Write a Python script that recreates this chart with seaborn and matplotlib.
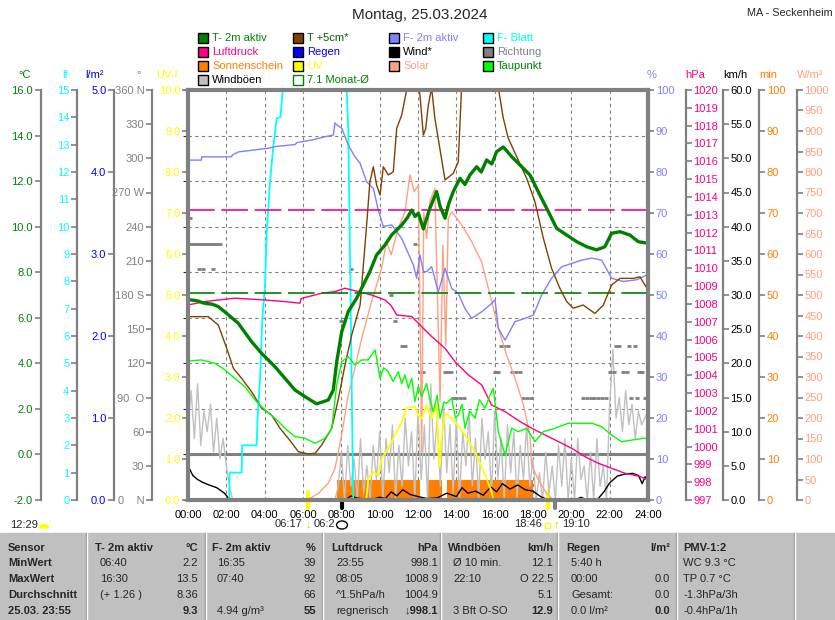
import numpy as np
import seaborn as sns
import matplotlib
matplotlib.use("Agg")
import matplotlib.pyplot as plt
from matplotlib.patches import Rectangle, Wedge, Circle
from matplotlib.lines import Line2D

# ---------------- data (hours since 00:00) ----------------
t2m_h = [0.0, 0.45, 0.9, 1.25, 1.58, 2.02, 2.62, 3.32, 3.84, 4.54, 5.06, 5.58, 6.10, 6.71, 7.32, 7.58,
         7.76, 8.02, 8.36, 8.80, 9.23, 9.49, 9.84, 10.28, 10.63, 11.15, 11.45, 11.67, 11.85, 12.02, 12.28,
         12.62, 12.97, 13.15, 13.41, 13.60, 13.84, 14.19, 14.45, 14.71, 15.06, 15.30, 15.58, 15.85, 16.10,
         16.45, 16.89, 17.32, 17.84, 18.36, 18.80, 19.23, 19.76, 20.28, 20.80, 21.32, 21.75, 22.10, 22.54,
         23.06, 23.49, 24.0]
t2m_v = [6.80, 6.75, 6.63, 6.60, 6.49, 6.19, 5.76, 4.95, 4.44, 3.85, 3.34, 2.83, 2.54, 2.22, 2.39, 2.83,
         4.07, 5.39, 6.27, 6.86, 7.59, 8.03, 8.76, 9.20, 9.64, 10.07, 10.40, 10.73, 10.45, 10.59, 9.90,
         10.81, 11.54, 10.90, 10.37, 11.00, 11.54, 12.12, 11.85, 12.27, 12.63, 12.40, 12.93, 12.75, 13.29,
         13.50, 13.07, 12.71, 12.27, 11.39, 10.66, 9.93, 9.63, 9.34, 9.12, 8.98, 9.12, 9.71, 9.78,
         9.63, 9.34, 9.27]

t5_h = [0.0, 1.06, 1.58, 2.02, 2.37, 2.80, 3.32, 3.84, 4.36, 4.80, 5.23, 5.76, 6.28, 6.63, 6.97, 7.50,
        7.85, 8.19, 8.54, 8.98, 9.32, 9.49, 9.67, 9.84, 10.02, 10.19, 10.45, 10.71, 10.89, 11.15, 11.50,
        11.80, 12.10, 12.28, 12.40, 12.54, 12.71, 12.88, 13.41, 13.84, 14.10, 14.30, 14.90, 15.50, 16.19,
        16.45, 16.71, 17.15, 17.67, 18.10, 18.54, 18.97, 19.40, 19.76, 20.10, 20.62, 21.23, 21.67, 22.10,
        22.54, 23.23, 23.58, 24.0]
t5_v = [6.05, 6.05, 5.68, 4.66, 3.78, 3.34, 2.75, 2.03, 1.73, 1.15, 0.71, 0.12, 0.02, 0.05, 0.41, 1.15,
        2.46, 3.92, 5.24, 6.56, 10.07, 11.97, 12.63, 11.83, 11.39, 12.63, 12.27, 12.41, 14.32, 14.90, 16.40,
        16.80, 15.80, 14.02, 14.30, 15.34, 16.10, 14.76, 12.05, 12.34, 12.85, 16.60, 18.20, 17.80, 16.10,
        14.76, 13.88, 13.07, 12.12, 11.10, 9.49, 8.17, 7.30, 6.71, 6.42, 6.56, 6.19, 6.56, 7.44,
        7.73, 7.73, 7.80, 7.22]

dew_h = [0.0, 0.7, 1.41, 1.93, 2.45, 2.97, 3.50, 4.02, 4.54, 5.06, 5.58, 6.10, 6.63, 7.15, 7.50, 7.76,
         8.02, 8.36, 8.71, 9.06, 9.40, 9.76, 10.02, 10.20, 10.45, 10.70, 10.97, 11.15, 11.32, 11.50, 11.67,
         11.84, 12.02, 12.19, 12.45, 12.62, 12.80, 13.00, 13.15, 13.35, 13.50, 13.76, 13.95, 14.10, 14.30,
         14.45, 14.70, 14.97, 15.20, 15.50, 15.75, 15.93, 16.19, 16.54, 16.89, 17.23, 17.67, 18.10, 18.54,
         19.15, 19.84, 20.54, 21.06, 21.58, 22.10, 22.62, 23.15, 23.76, 24.0]
dew_v = [4.10, 4.15, 4.00, 3.71, 3.34, 2.97, 2.39, 1.95, 1.59, 1.15, 0.78, 0.71, 0.49, 0.71, 1.15, 3.05,
         4.07, 4.29, 3.93, 4.15, 4.15, 4.59, 3.34, 3.80, 3.63, 3.20, 3.63, 3.10, 3.49, 2.90, 3.34,
         2.32, 3.00, 2.54, 3.12, 2.40, 1.88, 2.60, 1.59, 2.30, 2.25, 2.47, 1.60, 1.73, 2.20,
         1.15, 1.90, 1.59, 2.40, 2.03, 2.60, 2.90, 1.00, -0.02, 1.15, 1.00, 1.15, 0.56, 1.00,
         1.15, 1.37, 1.37, 1.37, 1.22, 0.85, 0.56, 0.63, 0.71, 0.70]

hum_h = [0.0, 0.70, 0.72, 2.28, 2.30, 2.63, 4.19, 4.54, 5.58, 5.70, 6.45, 7.15, 7.58, 7.67, 7.76, 8.02,
         8.36, 8.71, 8.98, 9.32, 9.67, 9.93, 10.19, 10.63, 11.15, 11.76, 11.93, 12.10, 12.28, 12.45, 12.71,
         13.06, 13.41, 13.76, 14.10, 14.45, 14.80, 15.32, 15.76, 16.02, 16.19, 16.54, 17.06, 17.58, 18.02,
         18.45, 18.97, 19.50, 20.02, 20.54, 21.06, 21.58, 22.10, 22.71, 23.40, 24.0]
hum_v = [82.9, 82.9, 83.7, 83.7, 84.1, 84.9, 85.8, 86.2, 86.7, 87.2, 87.8, 88.6, 89.0, 92.0, 91.5, 90.7,
         86.6, 83.7, 82.1, 77.6, 76.0, 70.7, 66.7, 67.1, 63.8, 57.3, 54.1, 59.8, 55.7, 55.7, 56.9,
         50.8, 56.5, 51.6, 50.4, 46.7, 44.3, 45.9, 47.6, 48.8, 41.9, 39.0, 43.5, 44.3, 45.1,
         50.0, 54.1, 56.9, 57.7, 58.5, 59.0, 58.5, 54.1, 53.3, 53.7, 55.0]

leaf_h = [0.0, 2.15, 2.17, 2.80, 2.83, 3.58, 3.63, 3.76, 3.88, 4.02, 4.10, 4.28, 4.45, 4.63, 4.83, 4.94,
          8.28, 8.36, 8.45, 8.54, 8.62, 24.0]
leaf_v = [0, 0, 1, 1, 2, 2, 3, 4.45, 6.65, 7.87, 9.7, 11.65, 12.93, 13.96, 14.02, 15,
          15, 13.6, 9.1, 4.2, 0, 0]

press_h = [0.0, 0.87, 1.58, 2.45, 4.02, 5.06, 5.84, 5.90, 6.97, 7.67, 8.19, 8.89, 9.58, 10.28, 10.60,
           10.89, 11.67, 12.28, 12.71, 13.41, 13.93, 14.62, 15.32, 15.84, 16.54, 17.32, 17.93, 18.62,
           19.32, 20.02, 20.71, 21.41, 22.10, 22.80, 23.58, 24.0]
press_v = [1007.94, 1008.13, 1008.22, 1008.32, 1008.22, 1008.13, 1008.04, 1008.30, 1008.60, 1008.69,
           1008.88, 1008.69, 1008.50, 1008.22, 1007.90, 1007.38, 1007.29, 1006.63, 1006.17, 1005.51,
           1004.76, 1004.02, 1003.46, 1002.33, 1001.96, 1001.40, 1001.03, 1000.65, 1000.28, 999.90,
           999.43, 999.06, 998.78, 998.50, 998.32, 998.13]

solar_h = [6.20, 6.37, 6.80, 7.32, 7.67, 8.02, 8.36, 8.71, 9.06, 9.58, 9.84, 10.10, 10.36, 10.60, 10.97,
           11.32, 11.58, 11.80, 12.02, 12.19, 12.30, 12.45, 12.62, 12.88, 13.00, 13.15, 13.30, 13.45,
           13.58, 13.76, 14.28, 14.80, 15.32, 15.76, 16.19, 16.62, 17.06, 17.50, 17.84, 17.93, 18.28,
           18.71, 18.97, 19.20]
solar_v = [0, 4, 16, 41, 77, 159, 256, 321, 394, 484, 524, 565, 630, 598, 663,
           703, 793, 752, 768, 118, 700, 638, 728, 760, 524, 240, 622, 378,
           687, 703, 671, 630, 581, 500, 419, 354, 297, 232, 159, 85, 49,
           16, 4, 0]

uv_h = [9.30, 9.41, 9.67, 9.95, 10.10, 10.45, 10.80, 11.15, 11.41, 11.84, 12.02, 12.20, 12.45, 12.71,
        12.97, 13.10, 13.23, 13.40, 13.58, 13.93, 14.45, 14.97, 15.50, 15.84, 15.95]
uv_v = [0.0, 0.53, 0.69, 0.60, 1.02, 1.26, 1.59, 1.91, 2.24, 2.28, 2.07, 1.99, 2.32, 1.99,
        2.32, 0.81, 1.50, 2.10, 2.07, 1.91, 1.59, 1.18, 0.61, 0.20, 0.0]

# gusts, one value every 10 minutes (km/h)
gust_v = [11, 16, 9, 17, 8, 13, 10, 14, 7, 12, 6, 9,
          5, 2, 0, 0, 0, 0, 0, 0, 0, 0, 0, 0,
          0, 0, 0, 0, 0, 0, 0, 0, 0, 0, 0, 0,
          0, 0, 0, 0, 0, 0, 0, 0, 0, 0, 0, 2,
          7, 0, 8, 2, 6, 0, 9, 1, 5, 0, 8, 3,
          10, 0, 9, 4, 11, 0, 8, 2, 12, 5, 10, 0,
          13, 3, 11, 0, 17, 6, 12, 2, 14, 4, 11, 1,
          12, 0, 10, 5, 13, 2, 9, 0, 12, 6, 10, 1,
          13, 3, 9, 0, 11, 4, 10, 0, 8, 3, 11, 2,
          6, 0, 4, 0, 7, 1, 5, 0, 8, 2, 9, 0,
          6, 0, 9, 3, 5, 0, 7, 0, 9, 2, 5, 0,
          14, 22, 12, 15, 10, 16, 11, 14, 9, 13, 11, 12,
          13]
gust_h = np.arange(len(gust_v)) / 6.0

wind_h = [0.0, 0.25, 0.5, 0.75, 1.1, 1.5, 1.9, 2.1, 2.25, 8.2, 8.5, 8.8, 9.5, 10.0, 10.3, 10.6, 10.9,
          11.2, 11.6, 12.0, 12.5, 13.0, 13.5, 14.0, 14.3, 14.6, 15.0, 15.4, 15.8, 16.1, 16.4, 16.8,
          17.2, 17.6, 18.0, 18.4, 18.8, 19.5, 20.2, 20.5, 20.8, 21.4, 21.7, 22.0, 22.4, 22.8, 23.2,
          23.5, 23.7, 23.85, 24.0]
wind_v = [5.0, 3.6, 3.0, 2.6, 2.2, 1.8, 1.0, 0.3, 0.0, 0.0, 0.6, 0.3, 0.0, 0.4, 0.2, 1.2, 0.6,
          1.5, 0.8, 0.5, 0.2, 0.3, 1.0, 0.5, 1.8, 1.0, 1.3, 0.7, 1.9, 1.2, 2.4, 1.6,
          2.2, 1.5, 1.3, 0.5, 0.0, 0.0, 0.0, 0.4, 0.0, 0.2, 1.2, 2.5, 3.5, 3.8, 3.9,
          3.6, 2.4, 3.4, 2.6]

dir_h = [0.10, 0.15, 0.30, 0.45, 0.60, 0.75, 0.90, 1.05, 1.20, 1.35, 1.50, 1.65, 0.55, 0.80, 1.30,
         8.00, 8.50, 10.60, 10.80, 11.15, 11.30, 11.85, 12.10, 12.25, 13.40, 13.55, 13.70, 13.85,
         14.00, 14.20, 14.40, 16.00, 16.15, 16.35, 16.50, 16.70, 16.90, 17.10, 17.30, 17.50, 17.70,
         17.90, 20.60, 20.80, 21.00, 21.20, 21.40, 21.60, 21.80, 22.00, 22.20, 22.35, 22.50, 22.70,
         22.90, 23.00, 23.10, 23.30, 23.40, 23.55, 23.70, 23.85]
dir_v = [247.5, 225, 225, 225, 225, 225, 225, 225, 225, 225, 225, 225, 202.5, 202.5, 202.5,
         157.5, 202.5, 180, 157.5, 135, 135, 225, 112.5, 112.5, 112.5, 112.5, 112.5, 90,
         90, 90, 90, 112.5, 112.5, 135, 135, 135, 112.5, 112.5, 112.5, 90, 90,
         90, 90, 90, 90, 90, 90, 90, 90, 112.5, 112.5, 135, 135, 112.5,
         112.5, 135, 90, 135, 90, 112.5, 112.5, 90]

sun_start = [7.76, 12.45, 13.50]
sun_end = [12.10, 13.23, 18.00]
sun_minutes = 5

month_mean = 7.1
norm_press = 1013.25
events_h = [6.283, 8.02, 18.767, 19.167]
events_c = ["#ffff00", "#000000", "#ffff00", "#808080"]

legend_rows = [
    [("T- 2m aktiv", "#008000", "#008000"), ("T +5cm*", "#804000", "#006000"),
     ("F- 2m aktiv", "#8080ff", "#8080ff"), ("F- Blatt", "#00ffff", "#00ffff")],
    [("Luftdruck", "#ff0080", "#ff0080"), ("Regen", "#0000ff", "#0000ff"),
     ("Wind*", "#000000", "#000000"), ("Richtung", "#808080", "#808080")],
    [("Sonnenschein", "#ff8000", "#ff8000"), ("UV", "#ffff00", "#ffff00"),
     ("Solar", "#ffa080", "#ffa080"), ("Taupunkt", "#00ff00", "#008000")],
    [("Windböen", "#c0c0c0", "#000000"), ("7.1 Monat-Ø", None, "#008000")],
]

tbl_heads = [("Sensor", ""), ("T- 2m aktiv", "°C"), ("F- 2m aktiv", "%"), ("Luftdruck", "hPa"),
             ("Windböen", "km/h"), ("Regen", "l/m²"), ("PMV-1:2", "")]
tbl_rowlabels = ["MinWert", "MaxWert", "Durchschnitt", "25.03. 23:55"]
tbl_t2m = [("06:40", "2.2"), ("16:30", "13.5"), ("(+ 1.26 )", "8.36"), ("", "9.3")]
tbl_hum = [("16:35", "39"), ("07:40", "92"), ("", "66"), ("4.94 g/m³", "55")]
tbl_press = [("23:55", "998.1"), ("08:05", "1008.9"), ("^1.5hPa/h", "1004.9"), ("regnerisch", "↓998.1")]
tbl_gust = [("Ø 10 min.", "12.1"), ("22:10", "O 22.5"), ("", "5.1"), ("3 Bft O-SO", "12.9")]
tbl_rain = [("5:40 h", ""), ("00:00", "0.0"), ("Gesamt:", "0.0"), ("0.0 l/m²", "0.0")]
tbl_pmv = ["WC 9.3 °C", "TP 0.7 °C", "-1.3hPa/3h", "-0.4hPa/1h"]

# ---------------- style ----------------
sns.set_style("white")
plt.rcParams["font.family"] = ["Liberation Sans", "DejaVu Sans"]
plt.rcParams["font.size"] = 8
GRID = "#808080"

W, H = 835, 620


def fx(px):
    return px / W


def fy(py):
    return 1 - py / H


fig = plt.figure(figsize=(W / 100, H / 100), dpi=100)
L, R, T, B = 188, 648, 90, 500
ax = fig.add_axes([fx(L), fy(B), (R - L) / W, (B - T) / H])
ax.set_xlim(0, 24)
ax.set_ylim(-2, 16)
ax.set_xticks(range(0, 25, 2))
ax.set_xticklabels([f"{h:02d}:00" for h in range(0, 25, 2)])
ax.set_yticks(np.arange(-2, 17, 2))
ax.tick_params(axis="y", left=False, labelleft=False)
ax.tick_params(axis="x", length=0, pad=7.5, labelsize=8, labelcolor="black")
ax.grid(True, color=GRID, linestyle=(0, (3, 3)), linewidth=0.8)
for s in ax.spines.values():
    s.set_visible(False)
ax.axhline(0, color=GRID, lw=2.2)


def scale_axis(lo, hi, side=None, pos=0.0, ticks=None, labels=None, color="k", spine=True):
    t = ax.twinx()
    t.set_ylim(lo, hi)
    t.set_xlim(0, 24)
    for s in t.spines.values():
        s.set_visible(False)
    if side is None:
        t.set_yticks([])
        return t
    sp = t.spines[side]
    sp.set_position(("axes", pos))
    sp.set_visible(spine)
    sp.set_color(GRID)
    sp.set_linewidth(1.6)
    t.yaxis.set_ticks_position(side)
    t.set_yticks(ticks)
    t.set_yticklabels(labels)
    t.tick_params(axis="y", direction="out", length=4, width=1.2, color=GRID,
                  labelcolor=color, pad=1.5, labelsize=8)
    return t


def line(axis, x, y, color, lw=1.0, **kw):
    sns.lineplot(x=x, y=y, ax=axis, color=color, lw=lw, estimator=None, sort=False,
                 legend=False, **kw)


# sunshine minutes (orange blocks)
ax_min = scale_axis(0, 100, "right", 1.2413, range(0, 101, 10), [str(v) for v in range(0, 101, 10)], "#ff8000")
ax_min.bar(sun_start, [sun_minutes] * len(sun_start), width=np.subtract(sun_end, sun_start),
           align="edge", color="#ff8000", linewidth=0)

# gusts + wind
ax_kmh = scale_axis(0, 60, "right", 1.1624, range(0, 61, 5), [f"{v:.1f}" for v in range(0, 61, 5)], "black")
line(ax_kmh, gust_h, gust_v, "#c0c0c0", 1.0)

# direction
deg_lab = ["0    N", "30", "60", "90  O", "120", "150", "180 S", "210", "240", "270 W", "300", "330", "360 N"]
ax_deg = scale_axis(0, 360, "left", -0.0783, range(0, 361, 30), deg_lab, GRID)
ax_deg.plot(dir_h, dir_v, ls="none", marker="_", ms=3, mew=2, color="#808080")

# solar
ax_sol = scale_axis(0, 1000, "right", 1.3233, range(0, 1001, 50), [str(v) for v in range(0, 1001, 50)], "#ffa080")
line(ax_sol, solar_h, solar_v, "#ffa080", 1.0)

# leaf wetness
ax_lf = scale_axis(0, 15, "left", -0.2413, range(0, 16), [str(v) for v in range(0, 16)], "#00ffff")
line(ax_lf, leaf_h, leaf_v, "#00ffff", 1.3)

# rain axis (no rain)
ax_rain = scale_axis(0, 5, "left", -0.1609, range(0, 6), [f"{v:.1f}" for v in range(0, 6)], "#0000ff")

# UV
ax_uv = scale_axis(0, 10, "left", 0.0, range(0, 11), [f"{v:.1f}" for v in range(0, 11)], "#ffff00", spine=False)
line(ax_uv, uv_h, uv_v, "#ffff00", 1.3)

# wind on top of the orange blocks
line(ax_kmh, wind_h, wind_v, "black", 1.0)

# humidity
ax_pc = scale_axis(0, 100, "right", 1.0, range(0, 101, 10), [str(v) for v in range(0, 101, 10)], "#8080ff", spine=False)
line(ax_pc, hum_h, hum_v, "#8080ff", 1.0)

# pressure
ax_hpa = scale_axis(997, 1020, "right", 1.082, range(997, 1021), [str(v) for v in range(997, 1021)], "#ff0080")
ax_hpa.axhline(norm_press, color="#ff0080", lw=1.2, dashes=(16, 4))
line(ax_hpa, press_h, press_v, "#ff0080", 1.0)

# temperatures
ax_c = scale_axis(-2, 16, "left", -0.3202, range(-2, 17, 2), [f"{v:.1f}" for v in range(-2, 17, 2)], "#008000")
ax_c.axhline(month_mean, color="#008000", lw=1.2, dashes=(16, 4))
line(ax_c, t5_h, t5_v, "#804000", 1.0)
line(ax_c, dew_h, dew_v, "#00ff00", 1.0)
line(ax_c, t2m_h, t2m_v, "#008000", 2.4)

# frame on top
frame = fig.add_axes(ax.get_position(), facecolor="none")
frame.set_xticks([])
frame.set_yticks([])
for s in frame.spines.values():
    s.set_color(GRID)
    s.set_linewidth(3)

# sun / moon markers at the time axis
for h, c in zip(events_h, events_c):
    ax.plot([h, h], [-0.02, 0.02 if c == "#ffff00" else 0.0], color=c, lw=3,
            transform=ax.get_xaxis_transform(), clip_on=False, zorder=5)

# axis headers
for px, txt, col in [(25, "°C", "#008000"), (65, "lf", "#00ffff"), (95, "l/m²", "#0000ff"),
                     (139, "°", GRID), (167, "UV-I", "#ffff00"), (652, "%", "#8080ff"),
                     (695, "hPa", "#ff0080"), (735, "km/h", "black"), (768, "min", "#ff8000"),
                     (810, "W/m²", "#ffa080")]:
    fig.text(fx(px), fy(75), txt, color=col, ha="center", va="center", fontsize=8)

# title
fig.text(fx(420), fy(15), "Montag, 25.03.2024", ha="center", va="center", fontsize=11)
fig.text(fx(833), fy(13), "MA - Seckenheim", ha="right", va="center", fontsize=7.8)

# legend
col_x = [198, 293, 389, 483]
row_y = [38, 52, 66, 80]
for r, row in enumerate(legend_rows):
    for c, (name, box, tcol) in enumerate(row):
        x0, y0 = col_x[c], row_y[r]
        if box is None:
            fig.add_artist(Rectangle((fx(x0), fy(y0 + 5)), 10 / W, 10 / H, transform=fig.transFigure,
                                     facecolor="none", edgecolor="#008000", lw=1))
        else:
            fig.add_artist(Rectangle((fx(x0), fy(y0 + 5)), 10 / W, 10 / H, transform=fig.transFigure,
                                     facecolor=box, edgecolor="black", lw=1))
        fig.text(fx(x0 + 14), fy(y0), name, color=tcol, ha="left", va="center", fontsize=8)

# sunrise / sunset row
fig.text(fx(10), fy(525), "12:29", ha="left", va="center", fontsize=8)
fig.add_artist(Wedge((fx(44), fy(528)), 0.0055, 0, 180, transform=fig.transFigure, color="#ffff00"))
fig.text(fx(302), fy(524), "06:17", ha="right", va="center", fontsize=8)
fig.text(fx(308), fy(524), "↓", ha="center", va="center", fontsize=8, color="#e0c000", fontweight="bold")
fig.text(fx(314), fy(524), "06:2", ha="left", va="center", fontsize=8)
fig.add_artist(Circle((fx(342), fy(525)), 0.0065, transform=fig.transFigure, fill=False, ec="black", lw=1))
fig.text(fx(542), fy(524), "18:46", ha="right", va="center", fontsize=8)
fig.add_artist(Rectangle((fx(545), fy(528)), 5 / W, 5 / H, transform=fig.transFigure,
                         facecolor="none", edgecolor="#ffff00", lw=1))
fig.text(fx(556), fy(524), "↑", ha="center", va="center", fontsize=8, color="#e0c000", fontweight="bold")
fig.text(fx(562), fy(524), "19:10", ha="left", va="center", fontsize=8)

# ---------------- table ----------------
TBL = 533
fig.add_artist(Rectangle((0, 0), 1, fy(TBL), transform=fig.transFigure, color="#c0c0c0", zorder=0))
for sx in [87, 206, 323, 441, 558, 677, 795]:
    fig.add_artist(Line2D([fx(sx - 1), fx(sx - 1)], [0, fy(TBL)], transform=fig.transFigure, color="#909090", lw=1))
    fig.add_artist(Line2D([fx(sx), fx(sx)], [0, fy(TBL)], transform=fig.transFigure, color="white", lw=1))

rows_y = [548, 563.5, 579.5, 595, 610.5]
left_x = [8, 95, 212, 331, 448, 566, 683]
right_x = [None, 198, 316, 438, 553, 670, None]
for i, (head, unit) in enumerate(tbl_heads):
    fig.text(fx(left_x[i]), fy(rows_y[0]), head, ha="left", va="center", fontsize=8, fontweight="bold")
    if unit:
        fig.text(fx(right_x[i]), fy(rows_y[0]), unit, ha="right", va="center", fontsize=8, fontweight="bold")
for r, lab in enumerate(tbl_rowlabels):
    y = fy(rows_y[r + 1])
    last = r == len(tbl_rowlabels) - 1
    fig.text(fx(8), y, lab, ha="left", va="center", fontsize=8, fontweight="bold")
    for c, col in enumerate([tbl_t2m, tbl_hum, tbl_press, tbl_gust, tbl_rain], start=1):
        a, b = col[r]
        fig.text(fx(left_x[c] + 5), y, a, ha="left", va="center", fontsize=8)
        fig.text(fx(right_x[c]), y, b, ha="right", va="center", fontsize=8,
                 fontweight="bold" if last else "normal")
    fig.text(fx(683), y, tbl_pmv[r], ha="left", va="center", fontsize=8)

fig.savefig("out.png", dpi=100)
